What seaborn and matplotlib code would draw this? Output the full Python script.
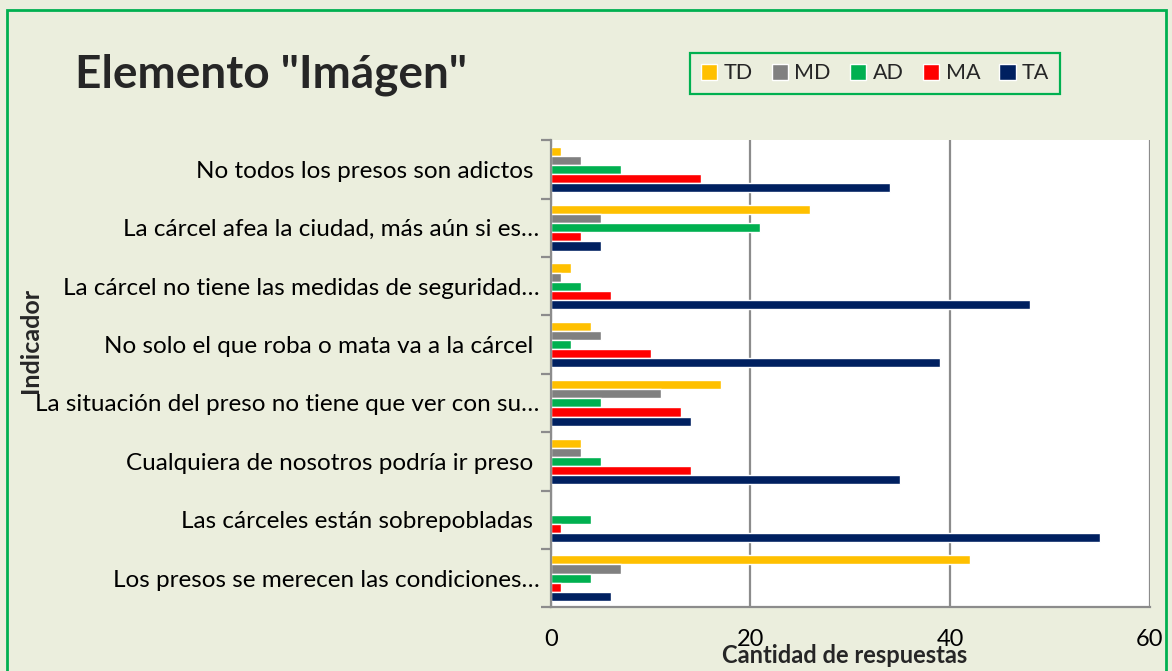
import numpy as np
import pandas as pd
import matplotlib
matplotlib.use("Agg")
import matplotlib.pyplot as plt
from matplotlib.patches import Rectangle
from matplotlib.ticker import FixedLocator
import seaborn as sns

# Data
indicadores = [
    "No todos los presos son adictos ",
    "La cárcel afea la ciudad, más aún si es…",
    "La cárcel no tiene las medidas de seguridad…",
    "No solo el que roba o mata va a la cárcel ",
    "La situación del preso no tiene que ver con su…",
    "Cualquiera de nosotros podría ir preso ",
    "Las cárceles están sobrepobladas ",
    "Los presos se merecen las condiciones…",
]
respuestas = ["TD", "MD", "AD", "MA", "TA"]
td = [1, 26, 2, 4, 17, 3, 0, 42]
md = [3, 5, 1, 5, 11, 3, 0, 7]
ad = [7, 21, 3, 2, 5, 5, 4, 4]
ma = [15, 3, 6, 10, 13, 14, 1, 1]
ta = [34, 5, 48, 39, 14, 35, 55, 6]
colores = ["#FFC000", "#808080", "#00B050", "#FF0000", "#002060"]

BG = "#EBEEDD"
GREEN = "#00B050"

# Long-form table for seaborn
rows = []
for serie, valores in zip(respuestas, [td, md, ad, ma, ta]):
    for ind, v in zip(indicadores, valores):
        rows.append({"Indicador": ind, "Respuesta": serie, "Cantidad": v})
df = pd.DataFrame(rows)

sns.set_style("white")
plt.rcParams["font.family"] = ["Lato", "DejaVu Sans"]

fig = plt.figure(figsize=(11.72, 6.71), dpi=100, facecolor=BG)
ax = fig.add_axes([0.470, 0.095, 0.511, 0.696])
ax.set_facecolor("white")

sns.barplot(data=df, y="Indicador", x="Cantidad", hue="Respuesta",
            order=indicadores, hue_order=respuestas, palette=colores,
            orient="h", width=0.78, saturation=1, ax=ax, legend=True)

# Axes styling (Excel-like)
ax.set_xlim(0, 60)
ax.set_ylim(len(indicadores) - 0.5, -0.5)
ax.set_xticks([0, 20, 40, 60])
ax.xaxis.grid(True, color="#8C8C8C", lw=1.6)
ax.set_axisbelow(True)
for s in ["top", "right"]:
    ax.spines[s].set_visible(False)
for s in ["left", "bottom"]:
    ax.spines[s].set_color("#8C8C8C")
    ax.spines[s].set_linewidth(1.6)

ax.tick_params(axis="x", length=7, width=1.6, color="#8C8C8C", pad=9,
               labelsize=17, labelcolor="black", direction="out")
ax.tick_params(axis="y", which="major", length=0, pad=8, labelsize=17.5,
               labelcolor="black")
ax.yaxis.set_minor_locator(FixedLocator(np.arange(-0.5, len(indicadores), 1)))
ax.tick_params(axis="y", which="minor", length=7, width=1.6,
               color="#8C8C8C", left=True)

ax.set_xlabel("Cantidad de respuestas", fontsize=17, fontweight="bold")
ax.xaxis.set_label_coords(0.49, -0.078)
ax.set_ylabel("Indicador", fontsize=18, fontweight="bold")
ax.yaxis.set_label_coords(-0.85, 0.572)

# Legend
handles, labels = ax.get_legend_handles_labels()
ax.legend(handles, labels, loc="center", ncol=5,
          bbox_to_anchor=(0.7466, 0.8905), bbox_transform=fig.transFigure,
          frameon=True, fancybox=False, edgecolor=GREEN, facecolor=BG,
          framealpha=1, fontsize=15.5, handlelength=0.75, handleheight=0.75,
          handletextpad=0.3, columnspacing=0.9, borderpad=0.5)
ax.get_legend().get_frame().set_linewidth(1.6)

# Title
fig.text(0.064, 0.888, 'Elemento "Imágen"', fontsize=33, fontweight="bold",
         ha="left", va="center")

# Chart area border
fig.patches.append(Rectangle((0.006, -0.02), 0.989, 1.005,
                             transform=fig.transFigure, fill=False,
                             edgecolor=GREEN, lw=2, zorder=10))

fig.savefig("out.png", dpi=100, facecolor=BG)
